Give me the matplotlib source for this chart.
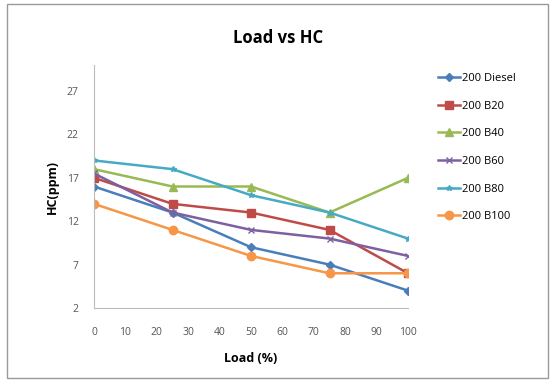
import matplotlib
matplotlib.use("Agg")
import matplotlib.pyplot as plt
from matplotlib.patches import Rectangle

load = [0, 25, 50, 75, 100]
diesel = [16, 13, 9, 7, 4]
b20 = [17, 14, 13, 11, 6]
b40 = [18, 16, 16, 13, 17]
b60 = [17.5, 13, 11, 10, 8]
b80 = [19, 18, 15, 13, 10]
b100 = [14, 11, 8, 6, 6]
labels = ["200 Diesel", "200 B20", "200 B40", "200 B60", "200 B80", "200 B100"]
yticks = [2, 7, 12, 17, 22, 27]
xticks = [0, 10, 20, 30, 40, 50, 60, 70, 80, 90, 100]

series = [diesel, b20, b40, b60, b80, b100]
colors = ["#4A7EBB", "#BE4B48", "#98B954", "#7D60A0", "#46AAC5", "#F79646"]
markers = ["D", "s", "^", "x", "*", "o"]
msizes = [4.5, 6, 6, 4, 4, 6]

plt.rcParams['font.family'] = ['Open Sans', 'DejaVu Sans']
fig = plt.figure(figsize=(5.56, 3.85), dpi=100)
ax = fig.add_axes([94/556, 1-308/385, (408-94)/556, (308-65)/385])

for vals, c, m, ms, lab in zip(series, colors, markers, msizes, labels):
    ax.plot(load, vals, color=c, marker=m, markersize=ms, lw=1.8, label=lab)

ax.set_xlim(0, 100)
ax.set_ylim(2, 30)
ax.set_xticks(xticks)
ax.set_yticks(yticks)
ax.tick_params(labelsize=7.5, colors="#555555", length=0)
ax.tick_params(axis="x", pad=14)
ax.tick_params(axis="y", pad=11)
for s in ["top", "right"]:
    ax.spines[s].set_visible(False)
for s in ["left", "bottom"]:
    ax.spines[s].set_color("#BBBBBB")

ax.set_xlabel("Load (%)", fontsize=9, fontweight="bold", labelpad=10)
ax.set_ylabel("HC(ppm)", fontsize=9, fontweight="bold", labelpad=6)
fig.text(0.5, 1-38/385, "Load vs HC", ha="center", va="center", fontsize=12, fontweight="bold")

leg = fig.legend(loc="upper left", bbox_to_anchor=(428/556, 1-63/385), frameon=False,
                 fontsize=8, labelspacing=1.5, handlelength=2.0, handletextpad=0.2)

fig.patches.append(Rectangle((7/556, 1-378/385), 541/556, 374/385, transform=fig.transFigure,
                             fill=False, edgecolor="#999999", lw=1))
fig.savefig("out.png", dpi=100)
